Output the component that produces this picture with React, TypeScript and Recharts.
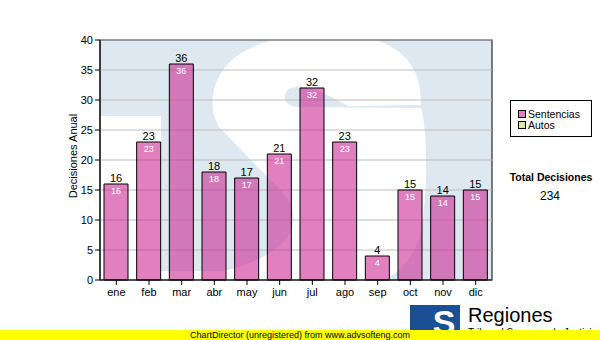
import { BarChart, Bar, XAxis, YAxis, CartesianGrid, LabelList } from 'recharts';

const MONTHS = ['ene', 'feb', 'mar', 'abr', 'may', 'jun', 'jul', 'ago', 'sep', 'oct', 'nov', 'dic'];
const SENTENCIAS = [16, 23, 36, 18, 17, 21, 32, 23, 4, 15, 14, 15];
const AUTOS = [0, 0, 0, 0, 0, 0, 0, 0, 0, 0, 0, 0];
const Y_TICKS = [0, 5, 10, 15, 20, 25, 30, 35, 40];
const SERIES = ['Sentencias', 'Autos'];
const SERIES_COLORS = ['#e080be', '#d6eaa0'];

const data = MONTHS.map((mes, i) => ({
  mes,
  sentencias: SENTENCIAS[i],
  autos: AUTOS[i],
  total: SENTENCIAS[i] + AUTOS[i],
}));
const totalDecisiones = data.reduce((s, d) => s + d.total, 0);

const FONT = '"Liberation Sans", Arial, sans-serif';
const W = 600;
const H = 340;
// plot box: left 100, top 40, right 492, bottom 280
const PLOT = { x: 100, y: 40, w: 392, h: 240 };

// big "S" watermark of the logo, white on light blue
const S_PATH =
  'M 213 112 C 208 70, 240 36, 320 34 C 395 32, 422 60, 421 105 L 348 106 ' +
  'C 330 96, 312 86, 296 87 C 282 88, 280 104, 296 107 L 421 108 ' +
  'C 428 130, 428 200, 420 235 C 410 270, 385 285, 350 290 L 95 290 L 95 116 L 161 116 L 161 271 L 222 271 ' +
  'C 255 265, 285 248, 292 228 C 297 212, 290 200, 282 192 L 218 126 Z';

const abs = { position: 'absolute' as const, left: 0, top: 0 };

export default function App() {
  return (
    <div style={{ ...abs, width: W, height: H, background: '#fff', fontFamily: FONT }}>
      <svg width={W} height={H} style={abs}>
        <defs>
          <clipPath id="plotClip">
            <rect x={PLOT.x} y={PLOT.y} width={PLOT.w} height={PLOT.h} />
          </clipPath>
        </defs>
        <g clipPath="url(#plotClip)">
          <rect x={PLOT.x} y={PLOT.y} width={PLOT.w} height={PLOT.h} fill="#dde8f1" />
          <path d={S_PATH} fill="#ffffff" />
        </g>
        <rect x={PLOT.x} y={PLOT.y} width={PLOT.w} height={PLOT.h} fill="none" stroke="#000" />
      </svg>

      <div style={abs}>
        <BarChart
          width={W}
          height={H}
          data={data}
          margin={{ top: 40, right: 108, bottom: 30, left: 0 }}
        >
          <CartesianGrid vertical={false} stroke="#bcbcbc" />
          <XAxis
            dataKey="mes"
            height={30}
            tickSize={5}
            tickMargin={3}
            axisLine={{ stroke: '#000' }}
            tickLine={{ stroke: '#000' }}
            tick={{ fontSize: 11, fill: '#000', fontFamily: FONT }}
          />
          <YAxis
            width={100}
            domain={[0, 40]}
            ticks={Y_TICKS}
            tickSize={5}
            tickMargin={2}
            axisLine={{ stroke: '#000' }}
            tickLine={{ stroke: '#000' }}
            tick={{ fontSize: 11, fill: '#000', fontFamily: FONT }}
          />
          <Bar
            dataKey="sentencias"
            stackId="a"
            barSize={24}
            fill="rgb(203,43,147)"
            fillOpacity={0.6}
            stroke="#000"
            strokeWidth={1}
            isAnimationActive={false}
          >
            <LabelList
              dataKey="sentencias"
              position="insideTop"
              offset={4}
              fill="#fff"
              fontSize={9}
              fontFamily={FONT}
            />
            <LabelList
              dataKey="total"
              position="top"
              offset={2}
              fill="#000"
              fontSize={11}
              fontFamily={FONT}
            />
          </Bar>
          <Bar
            dataKey="autos"
            stackId="a"
            barSize={24}
            fill={SERIES_COLORS[1]}
            stroke="#000"
            isAnimationActive={false}
          />
        </BarChart>
      </div>

      <svg width={W} height={H} style={{ ...abs, pointerEvents: 'none' }} fontFamily={FONT}>
        <text
          x={77}
          y={156}
          transform="rotate(-90 77 156)"
          textAnchor="middle"
          fontSize={11}
          fill="#000"
        >
          Decisiones Anual
        </text>

        <rect x={510.5} y={100.5} width={81} height={36} fill="#fff" stroke="#000" />
        {SERIES.map((name, i) => (
          <g key={name}>
            <rect
              x={518.5}
              y={110.5 + i * 11}
              width={7}
              height={7}
              fill={SERIES_COLORS[i]}
              stroke="#000"
            />
            <text x={528} y={118 + i * 11} fontSize={10.5} fill="#000">
              {name}
            </text>
          </g>
        ))}

        <text x={551} y={181} textAnchor="middle" fontSize={10.5} fontWeight="bold" fill="#000">
          Total Decisiones
        </text>
        <text x={550} y={200} textAnchor="middle" fontSize={12} fill="#000">
          {totalDecisiones}
        </text>

        <rect x={410} y={305} width={50} height={30} fill="#1b4f93" />
        <text x={444} y={334} textAnchor="middle" fontSize={34} fontWeight="900" fill="#fff">
          S
        </text>
        <text x={468} y={322} fontSize={20} fill="#000">
          Regiones
        </text>
        <text x={468} y={336} fontSize={10} fill="#000">
          Tribunal Supremo de Justicia
        </text>

        <rect x={0} y={330} width={W} height={10} fill="#ffff00" />
        <text x={300} y={338} textAnchor="middle" fontSize={9} fill="#000">
          ChartDirector (unregistered) from www.advsofteng.com
        </text>
      </svg>
    </div>
  );
}
